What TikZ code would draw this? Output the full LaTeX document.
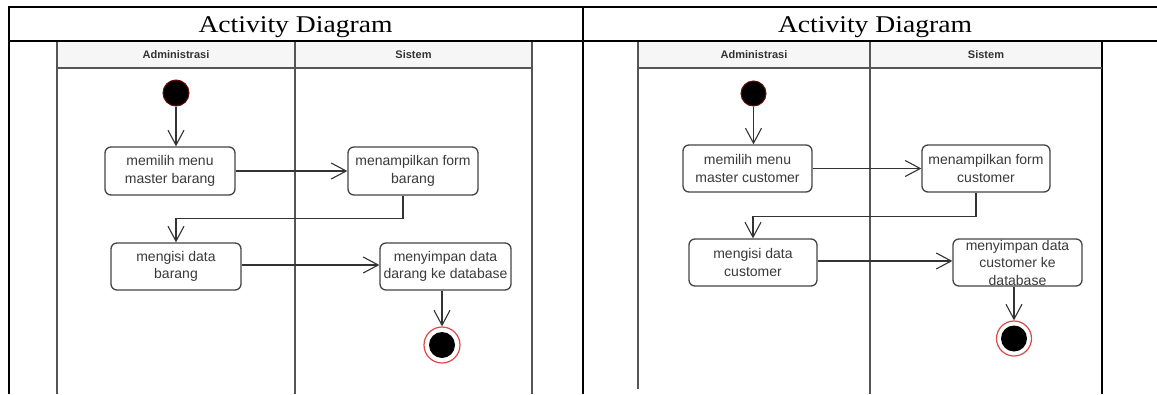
\documentclass[tikz,border=0pt]{standalone}
\usepackage{fontspec}
\usetikzlibrary{arrows.meta,calc}
\newfontfamily\sansfont{Liberation Sans}
\newfontfamily\titleserif[FakeStretch=1.15]{Liberation Serif}
\newcommand\actfont{\sansfont\fontsize{14}{17.5}\selectfont}
\newcommand\lanefont{\sansfont\bfseries\fontsize{11}{13}\selectfont}
\newcommand\headfont{\titleserif\fontsize{24}{28}\selectfont}
\definecolor{ink}{HTML}{333333}
\definecolor{boxline}{HTML}{444444}
\definecolor{txt}{HTML}{3A3A3A}
\definecolor{framegray}{HTML}{555555}
\definecolor{headfill}{HTML}{F6F6F6}
\definecolor{startred}{HTML}{6A0A0A}
\definecolor{endred}{HTML}{E04848}
\tikzset{
  act/.style={draw=boxline, line width=1.3pt, rounded corners=6pt, fill=white,
    align=center, inner sep=0pt, font=\actfont, text=txt},
  flow/.style={draw=ink, line width=1.1pt,
    -{Straight Barb[length=15pt,width=16pt,line width=1.1pt]}},
  startnode/.style={circle, fill=black, draw=startred, line width=1pt,
    minimum size=26pt, inner sep=0pt},
  endnode/.style={circle, draw=endred, line width=1.2pt, fill=white,
    minimum size=36pt, inner sep=0pt,
    path picture={\fill[black] (path picture bounding box.center) circle (13pt);}},
  lane/.style={font=\lanefont, text=ink},
  frame/.style={draw=framegray, line width=1.3pt},
  tbl/.style={draw=black, line width=2pt},
  heading/.style={font=\headfont, text=black, anchor=base, inner sep=0pt},
}
\begin{document}
\begin{tikzpicture}[x=1pt,y=-1pt]
\useasboundingbox (0,0) rectangle (1157,394);
\fill[white] (0,0) rectangle (1157,394);

% ---------- table ----------
\draw[tbl] (8,7) -- (1157,7);
\draw[tbl] (8,40.5) -- (1157,40.5);
\draw[tbl] (9,6) -- (9,394);
\draw[tbl] (583,6) -- (583,394);
\node[heading] (t1) at (295.5,32) {Activity Diagram};
\node[heading] (t2) at (875,32) {Activity Diagram};

% ---------- left swimlanes ----------
\fill[headfill] (57,41.5) rectangle (532,68);
\draw[frame] (57,41.5) -- (57,394);
\draw[frame] (295,41.5) -- (295,394);
\draw[frame] (532,41.5) -- (532,394);
\draw[frame] (57,68) -- (532,68);
\node[lane] (la) at (176,54.5) {Administrasi};
\node[lane] (ls) at (413.5,54.5) {Sistem};

\node[startnode] (s1) at (176,93) {};
\node[act, minimum width=130pt, minimum height=48pt] (a1) at (170,171) {memilih menu\\master barang};
\node[act, minimum width=130pt, minimum height=48pt] (a2) at (413,171) {menampilkan form\\barang};
\node[act, minimum width=130pt, minimum height=47pt] (a3) at (176,266.5) {mengisi data\\barang};
\node[act, minimum width=131pt, minimum height=47pt] (a4) at (445.5,266.5) {menyimpan data\\darang ke database};
\node[endnode] (e1) at (442,345) {};

\draw[flow] (s1) -- (s1 |- a1.north);
\draw[flow] (a1) -- (a2);
\draw[flow] ([xshift=-10pt]a2.south) -- ++(0,23) -| (a3.north);
\draw[flow] (a3.east |- 0,265) -- (a4.west |- 0,265);
\draw[flow] (e1 |- a4.south) -- (e1);

% ---------- right swimlanes ----------
\fill[headfill] (638,41.5) rectangle (1102,68);
\draw[frame] (638,41.5) -- (638,389);
\draw[frame] (870,41.5) -- (870,394);
\draw[frame, draw=black, line width=1.8pt] (1102,41.5) -- (1102,394);
\draw[frame] (638,68) -- (1102,68);
\node[lane] (ra) at (754,54.5) {Administrasi};
\node[lane] (rs) at (986,54.5) {Sistem};

\node[startnode, minimum size=25pt] (s2) at (753.5,93.5) {};
\node[act, minimum width=129pt, minimum height=47pt] (b1) at (747.5,168.5) {memilih menu\\master customer};
\node[act, minimum width=128pt, minimum height=47pt] (b2) at (986,168.5) {menampilkan form\\customer};
\node[act, minimum width=128pt, minimum height=47pt] (b3) at (753,262.5) {mengisi data\\customer};
\node[act, minimum width=129pt, minimum height=47pt,
      font=\sansfont\fontsize{14}{17.5}\selectfont] (b4) at (1017.5,262.5) {menyimpan data\\customer ke\\database};
\node[endnode, minimum size=35pt] (e2) at (1014,338.5) {};

\draw[flow] (s2) -- (s2 |- b1.north);
\draw[flow] (b1) -- (b2);
\draw[flow] ([xshift=-10pt]b2.south) -- ++(0,24) -| (b3.north);
\draw[flow] (b3.east |- 0,261) -- (b4.west |- 0,261);
\draw[flow] (e2 |- b4.south) -- (e2);
\end{tikzpicture}
\end{document}
